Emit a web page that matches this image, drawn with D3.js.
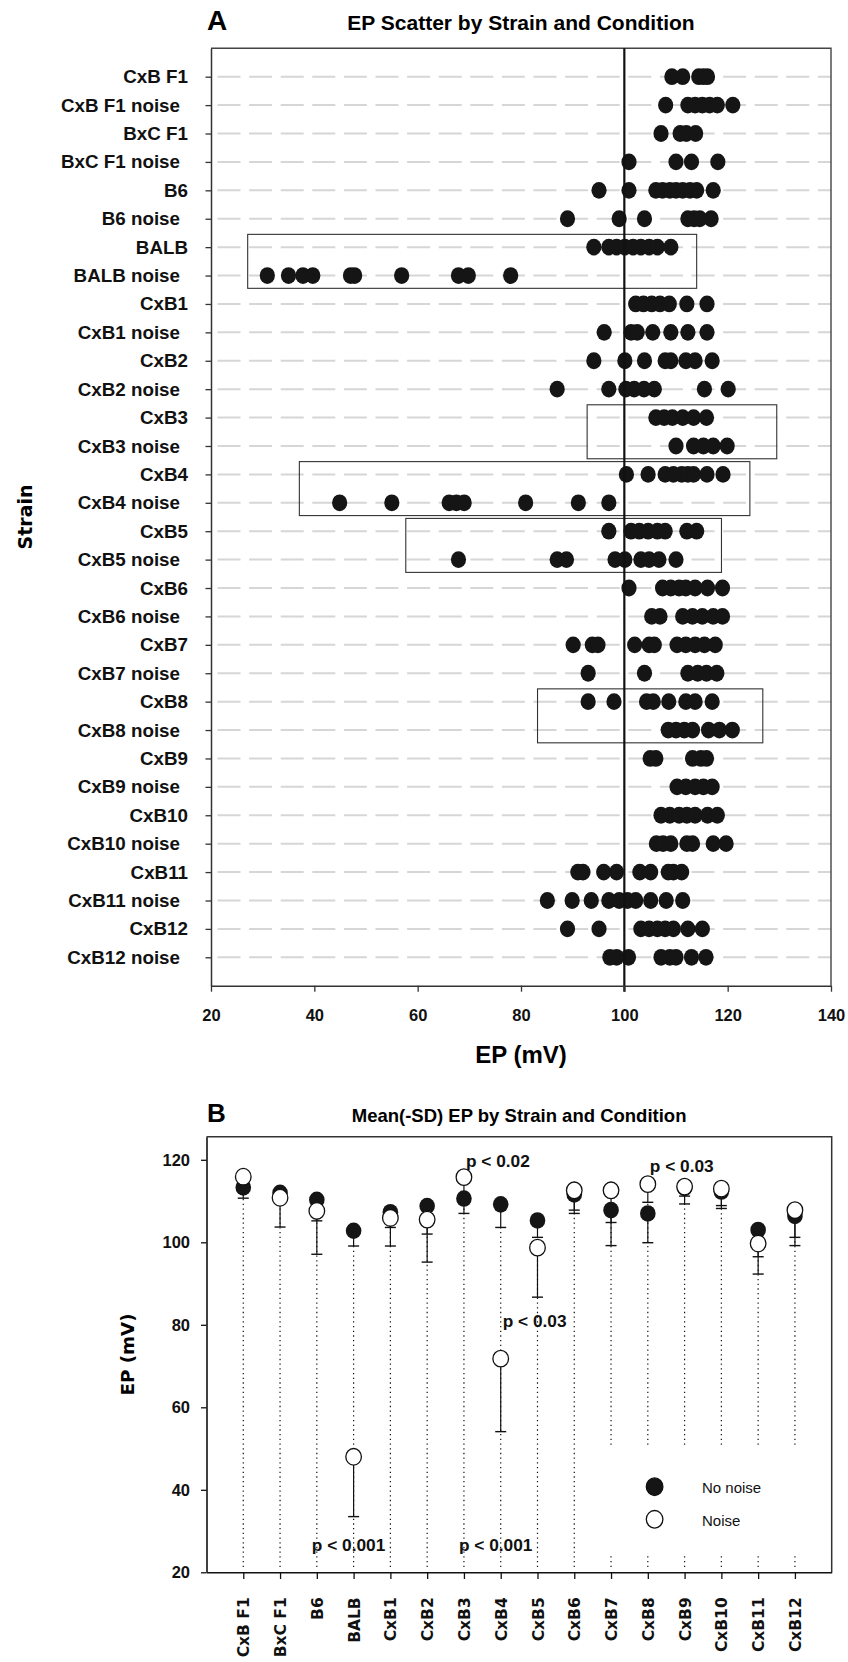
<!DOCTYPE html>
<html>
<head>
<meta charset="utf-8">
<script src="https://cdn.jsdelivr.net/npm/d3@7"></script>
<style>
  body { margin: 0; background: #fff; }
  text { font-family: "Liberation Sans", Arial, sans-serif; }
</style>
</head>
<body>
<div id="chart"></div>
<script>
// ---------- Panel A data: EP (mV) per animal, by strain / condition ----------
var rowLabels = ["CxB F1", "CxB F1 noise", "BxC F1", "BxC F1 noise", "B6", "B6 noise",
  "BALB", "BALB noise", "CxB1", "CxB1 noise", "CxB2", "CxB2 noise", "CxB3", "CxB3 noise",
  "CxB4", "CxB4 noise", "CxB5", "CxB5 noise", "CxB6", "CxB6 noise", "CxB7", "CxB7 noise",
  "CxB8", "CxB8 noise", "CxB9", "CxB9 noise", "CxB10", "CxB10 noise", "CxB11", "CxB11 noise",
  "CxB12", "CxB12 noise"];

var rowValues = [
  [109.2, 111.3, 114.4, 115.3, 116.1],
  [108.0, 112.3, 113.7, 115.1, 116.5, 118.0, 121.0],
  [107.1, 110.8, 112.0, 113.8],
  [100.9, 110.0, 113.0, 118.1],
  [95.1, 100.9, 106.1, 107.4, 108.8, 110.0, 111.3, 112.7, 114.0, 117.2],
  [89.0, 99.0, 103.9, 112.3, 113.5, 114.6, 116.8],
  [94.1, 97.0, 98.5, 100.1, 101.7, 103.2, 104.8, 106.4, 109.0],
  [30.9, 35.0, 37.8, 39.7, 47.0, 47.8, 56.9, 67.9, 69.8, 78.0],
  [102.2, 103.7, 105.3, 106.9, 108.7, 112.1, 116.0],
  [96.1, 101.3, 102.5, 105.5, 109.0, 112.3, 116.0],
  [94.1, 100.1, 103.9, 107.9, 109.0, 111.9, 113.7, 117.0],
  [87.0, 97.0, 100.3, 101.9, 103.8, 105.8, 115.5, 120.1],
  [106.1, 107.7, 109.3, 111.3, 113.4, 115.9],
  [110.0, 113.4, 115.3, 117.2, 119.9],
  [100.4, 104.6, 107.9, 109.5, 111.1, 112.3, 113.4, 116.0, 119.1],
  [44.9, 55.0, 66.1, 67.5, 69.0, 80.9, 91.1, 97.0],
  [97.0, 101.3, 102.9, 104.6, 106.4, 107.9, 112.1, 114.0],
  [67.9, 87.0, 88.8, 98.2, 100.1, 103.2, 104.8, 106.7, 110.0],
  [100.9, 107.4, 109.0, 110.6, 111.9, 113.7, 116.1, 119.0],
  [105.3, 106.9, 111.3, 113.2, 115.1, 117.2, 119.0],
  [90.1, 93.8, 94.9, 102.0, 104.8, 105.8, 110.2, 111.9, 113.7, 115.5, 117.6],
  [93.0, 103.9, 112.3, 114.2, 115.9, 117.9],
  [93.0, 98.0, 104.3, 105.6, 108.6, 111.9, 113.7, 117.0],
  [108.5, 110.0, 111.6, 113.2, 116.3, 118.4, 120.9],
  [105.0, 106.1, 113.2, 114.8, 115.9],
  [110.2, 111.9, 113.7, 115.3, 117.0],
  [107.1, 108.8, 110.6, 112.1, 113.7, 116.1, 118.0],
  [106.2, 107.5, 109.0, 112.1, 113.2, 117.2, 119.7],
  [91.0, 92.0, 96.0, 98.5, 103.0, 105.1, 108.5, 109.5, 111.1],
  [85.1, 89.9, 93.6, 97.0, 99.0, 100.6, 102.2, 105.1, 108.1, 111.3],
  [89.0, 95.1, 103.2, 104.8, 106.4, 107.9, 109.5, 112.3, 115.1],
  [97.2, 98.5, 100.8, 107.1, 108.8, 110.0, 113.0, 115.8]
];

var xTicksA = [20, 40, 60, 80, 100, 120, 140];
var refLineA = 100;

// highlight boxes: first / last row and EP range
var boxFirst = ["BALB", "CxB3", "CxB4", "CxB5", "CxB8"];
var boxLast = ["BALB noise", "CxB3 noise", "CxB4 noise", "CxB5 noise", "CxB8 noise"];
var boxFrom = [27.1, 92.8, 37.1, 57.7, 83.2];
var boxTo = [114.0, 129.5, 124.3, 118.8, 126.8];

// ---------- Panel B data: mean and mean - SD ----------
var strainsB = ["CxB F1", "BxC F1", "B6", "BALB", "CxB1", "CxB2", "CxB3", "CxB4",
  "CxB5", "CxB6", "CxB7", "CxB8", "CxB9", "CxB10", "CxB11", "CxB12"];
var meanNoNoise = [113.3, 112.0, 110.3, 102.8, 107.3, 108.8, 110.6, 109.2, 105.3, 111.6, 107.8, 107.0, 113.2, 112.3, 103.0, 106.4];
var lowNoNoise = [110.7, 110.0, 105.2, 99.1, 103.6, 102.0, 107.0, 103.6, 101.2, 107.8, 99.2, 99.9, 109.3, 108.9, 96.5, 101.2];
var meanNoise = [115.9, 110.8, 107.6, 48.0, 105.9, 105.5, 115.8, 71.8, 98.7, 112.6, 112.6, 114.1, 113.5, 113.0, 99.7, 107.8];
var lowNoise = [112.8, 103.7, 97.1, 33.5, 99.1, 95.2, 111.0, 54.1, 86.7, 107.0, 104.8, 109.7, 111.2, 108.2, 92.3, 99.2];
var yTicksB = [20, 40, 60, 80, 100, 120];

var pText = ["p < 0.02", "p < 0.03", "p < 0.03", "p < 0.001", "p < 0.001"];
var pStrain = ["CxB3", "CxB8", "CxB4", "BALB", "CxB4"];
var pAt = [118.2, 117.0, 79.5, 25.2, 25.2];
var pAlign = ["start", "start", "start", "middle", "middle"];

var legendLabels = ["No noise", "Noise"];

var svgWidth = 848;
var svgHeight = 1662;

var svg = d3.select("#chart")
  .append("svg")
  .attr("width", svgWidth)
  .attr("height", svgHeight);

// ================= Panel A =================
var plotA = {left: 211, right: 831, top: 48.3, bottom: 985.7};

var xA = d3.scaleLinear().domain([20, 140]).range([plotA.left, plotA.right]);
var yA = d3.scalePoint().domain(rowLabels).range([plotA.top, plotA.bottom]).padding(1);
var stepA = yA.step();

var gA = svg.append("g");

// dashed row gridlines
gA.selectAll(".grid")
  .data(rowLabels)
  .enter()
  .append("line")
  .attr("x1", xA(20) + 6.5)
  .attr("x2", xA(140))
  .attr("y1", d => yA(d))
  .attr("y2", d => yA(d))
  .attr("stroke", "#d6d6d6")
  .attr("stroke-width", 2)
  .attr("stroke-dasharray", "23,8.6");

// top / right frame
gA.append("path")
  .attr("d", `M${plotA.left},${plotA.top}H${plotA.right}V${plotA.bottom}`)
  .attr("fill", "none")
  .attr("stroke", "#444")
  .attr("stroke-width", 1.4);

// boxes
gA.selectAll(".box")
  .data(boxFirst)
  .enter()
  .append("rect")
  .attr("x", (d, i) => xA(boxFrom[i]))
  .attr("width", (d, i) => xA(boxTo[i]) - xA(boxFrom[i]))
  .attr("y", d => yA(d) - stepA * 0.45)
  .attr("height", (d, i) => yA(boxLast[i]) - yA(d) + stepA * 0.9)
  .attr("fill", "none")
  .attr("stroke", "#333")
  .attr("stroke-width", 1.1);

// dots
rowLabels.forEach(function(label, i) {
  gA.selectAll(null)
    .data(rowValues[i])
    .enter()
    .append("ellipse")
    .attr("cx", d => xA(d))
    .attr("cy", yA(label))
    .attr("rx", 7.6)
    .attr("ry", 8.4)
    .attr("fill", "#151515");
});

// reference line at 100 mV
gA.append("line")
  .attr("x1", xA(refLineA))
  .attr("x2", xA(refLineA))
  .attr("y1", plotA.top)
  .attr("y2", plotA.bottom + 6)
  .attr("stroke", "#111")
  .attr("stroke-width", 2.2);

// axes
var leftAxisA = gA.append("g")
  .attr("transform", `translate(${plotA.left},0)`)
  .call(d3.axisLeft(yA).tickSize(5.5).tickPadding(16.5).tickSizeOuter(0));
leftAxisA.selectAll("text")
  .attr("x", d => d.indexOf("noise") > 0 ? -31 : -23)
  .style("font-size", "18.8px")
  .style("font-weight", "bold")
  .attr("fill", "#111");

var bottomAxisA = gA.append("g")
  .attr("transform", `translate(0,${plotA.bottom})`)
  .call(d3.axisBottom(xA).tickValues(xTicksA).tickSize(6).tickPadding(18).tickSizeOuter(0));
bottomAxisA.selectAll("text")
  .style("font-size", "16.5px")
  .style("font-weight", "bold")
  .attr("fill", "#111");

[leftAxisA, bottomAxisA].forEach(function(ax) {
  ax.select(".domain").attr("stroke", "#333").attr("stroke-width", 1.5);
  ax.selectAll(".tick line").attr("stroke", "#333").attr("stroke-width", 1.3);
});

gA.append("text")
  .attr("x", 207)
  .attr("y", 30)
  .style("font-size", "28px")
  .style("font-weight", "bold")
  .text("A");

gA.append("text")
  .attr("x", (plotA.left + plotA.right) / 2)
  .attr("y", 30)
  .attr("text-anchor", "middle")
  .style("font-size", "21px")
  .style("font-weight", "bold")
  .text("EP Scatter by Strain and Condition");

gA.append("text")
  .attr("x", (plotA.left + plotA.right) / 2)
  .attr("y", 1063)
  .attr("text-anchor", "middle")
  .style("font-size", "24px")
  .style("font-weight", "bold")
  .text("EP (mV)");

gA.append("text")
  .attr("transform", `translate(32,${(plotA.top + plotA.bottom) / 2}) rotate(-90)`)
  .attr("text-anchor", "middle")
  .style("font-family", "'DejaVu Sans', sans-serif")
  .style("font-size", "19px")
  .style("font-weight", "bold")
  .text("Strain");

// ================= Panel B =================
var plotB = {left: 206.5, right: 831.7, top: 1136.7, bottom: 1572.3};

var xB = d3.scalePoint().domain(strainsB).range([plotB.left, plotB.right]).padding(1);
var yB = d3.scaleLinear().domain([20, 125.6]).range([plotB.bottom, plotB.top]);

var gB = svg.append("g");

// dotted drop lines
gB.selectAll(".drop")
  .data(strainsB)
  .enter()
  .append("line")
  .attr("x1", d => xB(d))
  .attr("x2", d => xB(d))
  .attr("y1", yB(21.3))
  .attr("y2", (d, i) => yB(Math.max(lowNoNoise[i], lowNoise[i])))
  .attr("stroke", "#111")
  .attr("stroke-width", 1.2)
  .attr("stroke-dasharray", "1.3,3.4");

// legend background hides the drop lines
gB.append("rect")
  .attr("x", 596)
  .attr("y", 1447)
  .attr("width", 235)
  .attr("height", 106)
  .attr("fill", "#fff");

// error bars (mean down to mean - SD)
function errorBars(means, lows) {
  var bars = gB.append("g");
  bars.selectAll("line")
    .data(strainsB)
    .enter()
    .append("line")
    .attr("x1", d => xB(d))
    .attr("x2", d => xB(d))
    .attr("y1", (d, i) => yB(means[i]))
    .attr("y2", (d, i) => yB(lows[i]))
    .attr("stroke", "#111")
    .attr("stroke-width", 1.2);
  bars.selectAll(".cap")
    .data(strainsB)
    .enter()
    .append("line")
    .attr("x1", d => xB(d) - 5.5)
    .attr("x2", d => xB(d) + 5.5)
    .attr("y1", (d, i) => yB(lows[i]))
    .attr("y2", (d, i) => yB(lows[i]))
    .attr("stroke", "#111")
    .attr("stroke-width", 1.4);
}
errorBars(meanNoNoise, lowNoNoise);
errorBars(meanNoise, lowNoise);

gB.selectAll(".nn")
  .data(strainsB)
  .enter()
  .append("ellipse")
  .attr("cx", d => xB(d))
  .attr("cy", (d, i) => yB(meanNoNoise[i]))
  .attr("rx", 7.8)
  .attr("ry", 8.3)
  .attr("fill", "#151515");

gB.selectAll(".nz")
  .data(strainsB)
  .enter()
  .append("ellipse")
  .attr("cx", d => xB(d))
  .attr("cy", (d, i) => yB(meanNoise[i]))
  .attr("rx", 7.8)
  .attr("ry", 8.3)
  .attr("fill", "#fff")
  .attr("stroke", "#111")
  .attr("stroke-width", 1.3);

// p-value notes
gB.selectAll(".pval")
  .data(pText)
  .enter()
  .append("text")
  .attr("x", (d, i) => xB(pStrain[i]) + (pAlign[i] === "start" ? 2 : -5))
  .attr("y", (d, i) => yB(pAt[i]))
  .attr("text-anchor", (d, i) => pAlign[i])
  .style("font-size", "17.3px")
  .style("font-weight", "bold")
  .attr("fill", "#111")
  .text(d => d);

// legend
legendLabels.forEach(function(label, i) {
  var ly = 1486.7 + i * 32.6;
  gB.append("ellipse")
    .attr("cx", 654.6)
    .attr("cy", ly)
    .attr("rx", 8.3)
    .attr("ry", 8.8)
    .attr("fill", i === 0 ? "#151515" : "#fff")
    .attr("stroke", "#111")
    .attr("stroke-width", 1.3);
  gB.append("text")
    .attr("x", 702)
    .attr("y", ly + 6.5)
    .style("font-size", "15px")
    .attr("fill", "#111")
    .text(label);
});

// frame
gB.append("path")
  .attr("d", `M${plotB.left},${plotB.top}H${plotB.right}V${plotB.bottom}`)
  .attr("fill", "none")
  .attr("stroke", "#333")
  .attr("stroke-width", 1.5);

var leftAxisB = gB.append("g")
  .attr("transform", `translate(${plotB.left},0)`)
  .call(d3.axisLeft(yB).tickValues(yTicksB).tickSize(5.5).tickPadding(11).tickSizeOuter(0));
leftAxisB.selectAll("text")
  .style("font-size", "16.5px")
  .style("font-weight", "bold")
  .attr("fill", "#111");

var bottomAxisB = gB.append("g")
  .attr("transform", `translate(0,${plotB.bottom})`)
  .call(d3.axisBottom(xB).tickSize(6.7).tickSizeOuter(0));
bottomAxisB.selectAll("text")
  .attr("transform", "rotate(-90)")
  .attr("x", -25)
  .attr("y", 0)
  .attr("dy", "0.36em")
  .attr("text-anchor", "end")
  .style("font-family", "'DejaVu Sans', sans-serif")
  .style("font-size", "15.5px")
  .style("font-weight", "bold")
  .attr("fill", "#111");

[leftAxisB, bottomAxisB].forEach(function(ax) {
  ax.select(".domain").attr("stroke", "#111").attr("stroke-width", 1.6);
  ax.selectAll(".tick line").attr("stroke", "#111").attr("stroke-width", 1.3);
});

gB.append("text")
  .attr("x", 207)
  .attr("y", 1121.7)
  .style("font-size", "26px")
  .style("font-weight", "bold")
  .text("B");

gB.append("text")
  .attr("x", (plotB.left + plotB.right) / 2)
  .attr("y", 1121.7)
  .attr("text-anchor", "middle")
  .style("font-size", "18.5px")
  .style("font-weight", "bold")
  .text("Mean(-SD) EP by Strain and Condition");

gB.append("text")
  .attr("transform", `translate(134,${(plotB.top + plotB.bottom) / 2}) rotate(-90)`)
  .attr("text-anchor", "middle")
  .style("font-family", "'DejaVu Sans', sans-serif")
  .style("font-size", "18.3px")
  .style("font-weight", "bold")
  .text("EP (mV)");
</script>
</body>
</html>
